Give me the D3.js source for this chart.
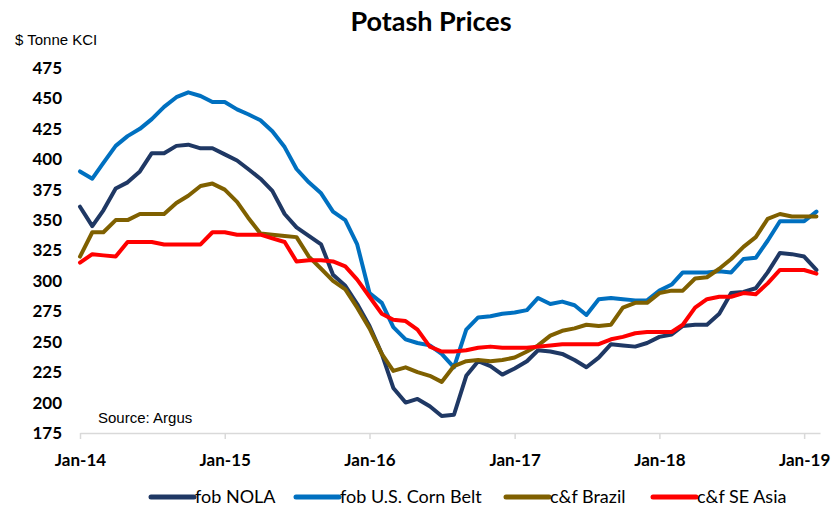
<!DOCTYPE html>
<html>
<head>
<title>Potash Prices</title>
<script src="https://d3js.org/d3.v7.min.js"></script>
<style>
  body { margin: 0; background: #fff; }
  text { fill: #000; }
</style>
</head>
<body>
<script>
// monthly readings, Jan-14 .. Feb-19 ($/tonne KCl)
const months = d3.timeMonths(new Date(2014, 0, 1), new Date(2019, 1, 2));
const seriesNames = ['fob NOLA', 'fob U.S. Corn Belt', 'c&f Brazil', 'c&f SE Asia'];
const fobNola = [361, 345, 358, 376, 381, 390, 405, 405, 411, 412, 409, 409,
  404, 399, 392, 384, 374, 355, 344, 337, 330, 305, 296, 281,
  263, 240, 212, 200, 203, 197, 189, 190, 222, 234, 230, 223,
  228, 234, 243, 242, 240, 235, 229, 237, 248, 247, 246, 249,
  254, 256, 263, 264, 264, 273, 290, 291, 294, 307, 323, 322,
  320, 309];
const fobCornBelt = [390, 384, 397, 411, 419, 425, 433, 443, 451, 455, 452, 447,
  447, 441, 437, 432, 423, 410, 392, 381, 372, 357, 350, 330,
  290, 282, 262, 252, 249, 247, 240, 229, 260, 270, 271, 273,
  274, 276, 286, 281, 283, 280, 272, 285, 286, 285, 284, 284,
  292, 297, 307, 307, 307, 308, 307, 318, 319, 333, 349, 349,
  349, 357];
const cfBrazil = [320, 340, 340, 350, 350, 355, 355, 355, 364, 370, 378, 380,
  375, 365, 352, 339, 338, 337, 336, 320, 310, 300, 293, 278,
  261, 240, 226, 229, 225, 222, 217, 230, 234, 235, 234, 235,
  237, 242, 247, 255, 259, 261, 264, 263, 264, 278, 282, 282,
  290, 292, 292, 302, 303, 310, 318, 328, 336, 351, 355, 353,
  353, 353];
const cfSeAsia = [315, 322, 321, 320, 332, 332, 332, 330, 330, 330, 330, 340,
  340, 338, 338, 338, 335, 332, 316, 317, 317, 316, 312, 301,
  287, 273, 268, 267, 260, 246, 242, 242, 243, 245, 246, 245,
  245, 245, 246, 247, 248, 248, 248, 248, 252, 254, 257, 258,
  258, 258, 264, 278, 285, 287, 287, 290, 289, 298, 309, 309,
  309, 306];
const yTicks = [175, 200, 225, 250, 275, 300, 325, 350, 375, 400, 425, 450, 475];
const xTicks = [2014, 2015, 2016, 2017, 2018, 2019];

const colors = ['#1f3864', '#0070c0', '#7f6000', '#ff0000'];
const allSeries = [fobNola, fobCornBelt, cfBrazil, cfSeAsia];

const w = 836, h = 514;
const boldFont = 'Lato, "Open Sans", sans-serif';
const plainFont = '"Liberation Sans", Arial, sans-serif';

const svg = d3.select('body').append('svg')
  .attr('width', w)
  .attr('height', h);

const x = d3.scaleTime()
  .domain([new Date(2014, 0, 1), new Date(2019, 1, 10)])
  .range([80, 820]);
const y = d3.scaleLinear()
  .domain([175, 475])
  .range([433, 68]);

svg.append('text')
  .attr('x', 431)
  .attr('y', 31)
  .attr('text-anchor', 'middle')
  .style('font-family', boldFont)
  .style('font-weight', 'bold')
  .style('font-size', '27px')
  .text('Potash Prices');

svg.append('text')
  .attr('x', 15)
  .attr('y', 45)
  .style('font-family', plainFont)
  .style('font-size', '15px')
  .text('$ Tonne KCI');

// y axis: labels only
const yAxis = svg.append('g')
  .attr('transform', 'translate(62,0)')
  .call(d3.axisLeft(y).tickValues(yTicks).tickSize(0).tickPadding(0));
yAxis.select('.domain').remove();
yAxis.selectAll('text')
  .style('font-family', boldFont)
  .style('font-weight', 'bold')
  .style('font-size', '17px')
  .attr('fill', '#000');

// x axis
const xAxis = svg.append('g')
  .attr('transform', 'translate(0,' + y(175) + ')')
  .call(d3.axisBottom(x)
    .tickValues(xTicks.map(yr => new Date(yr, 0, 1)))
    .tickFormat(d3.timeFormat('%b-%y'))
    .tickSize(6)
    .tickSizeOuter(0)
    .tickPadding(15));
xAxis.select('.domain').attr('stroke', '#d9d9d9').attr('stroke-width', 1.5);
xAxis.selectAll('.tick line').attr('stroke', '#d9d9d9').attr('stroke-width', 1.5);
xAxis.selectAll('text')
  .style('font-family', boldFont)
  .style('font-weight', 'bold')
  .style('font-size', '17px')
  .attr('fill', '#000');

svg.append('text')
  .attr('x', 98)
  .attr('y', 423)
  .style('font-family', plainFont)
  .style('font-size', '15px')
  .text('Source: Argus');

const line = d3.line()
  .x((d, i) => x(months[i]))
  .y(d => y(d));

svg.selectAll('path.series')
  .data(allSeries)
  .enter()
  .append('path')
  .attr('class', 'series')
  .attr('d', line)
  .attr('fill', 'none')
  .attr('stroke', (d, i) => colors[i])
  .attr('stroke-width', 4)
  .attr('stroke-linejoin', 'round')
  .attr('stroke-linecap', 'round');

// legend
const legendX = [151, 296, 506, 653];
const legend = svg.selectAll('g.legend')
  .data(seriesNames)
  .enter()
  .append('g')
  .attr('class', 'legend')
  .attr('transform', (d, i) => 'translate(' + legendX[i] + ',497)');
legend.append('line')
  .attr('x1', 0)
  .attr('x2', 43)
  .attr('stroke', (d, i) => colors[i])
  .attr('stroke-width', 5)
  .attr('stroke-linecap', 'round');
legend.append('text')
  .attr('x', 44)
  .attr('y', 6)
  .style('font-family', boldFont)
  .style('font-size', '18px')
  .text(d => d);
</script>
</body>
</html>
